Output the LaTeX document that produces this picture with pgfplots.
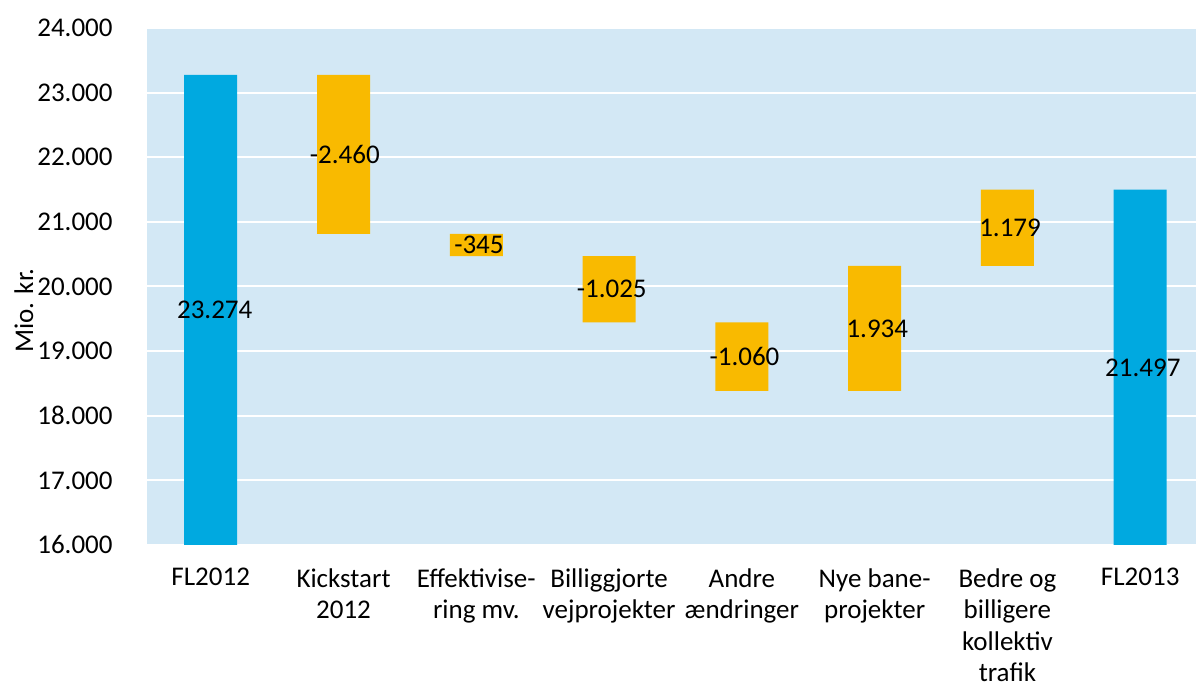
\documentclass[border=0pt]{standalone}
\usepackage{pgfplots}
\pgfplotsset{compat=1.18}
\usepackage{fontspec}
\setmainfont{Carlito}
\definecolor{bgblue}{RGB}{211,232,245}
\definecolor{barblue}{RGB}{0,169,224}
\definecolor{barorange}{RGB}{249,186,0}
\tikzset{vlab/.style={font=\fontsize{13.5}{16}\selectfont, inner sep=0pt}}
\begin{document}
\begin{tikzpicture}
\begin{axis}[name=ax, scale only axis, width=524.5pt, height=258.5pt,
  xmin=-0.48, xmax=7.42, ymin=16000, ymax=24000, enlargelimits=false,
  ybar stacked, bar width=26.5pt,
  axis background/.style={fill=bgblue},
  axis line style={draw=none},
  scaled y ticks=false,
  ytick={16000,17000,18000,19000,20000,21000,22000,23000,24000},
  yticklabels={16.000,17.000,18.000,19.000,20.000,21.000,22.000,23.000,24.000},
  ymajorgrids, grid style={white, line width=1pt},
  major tick length=0pt,
  xtick={0,1,2,3,4,5,6,7},
  xticklabels={FL2012, Kickstart\\2012, Effektivise-\\ring mv., Billiggjorte\\vejprojekter, Andre\\ændringer, Nye bane-\\projekter, Bedre og\\billigere\\kollektiv\\trafik, FL2013},
  xticklabel style={align=center, font=\fontsize{13.5}{15.8}\selectfont, anchor=north, inner sep=0pt, yshift=-11.5pt},
  yticklabel style={font=\fontsize{13.5}{16}\selectfont, anchor=east, inner sep=0pt, xshift=-17pt},
  ylabel={Mio. kr.},
  ylabel style={at={(axis description cs:-0.1173,0.4536)}, anchor=center, font=\fontsize{13.5}{16}\selectfont},
]
\addplot[draw=none, fill=none] coordinates {(0,0) (1,20814) (2,20469) (3,19444) (4,18384) (5,18384) (6,20318) (7,0)};
\addplot[draw=none, fill=barblue] coordinates {(0,23274) (1,0) (2,0) (3,0) (4,0) (5,0) (6,0) (7,21497)};
\addplot[draw=none, fill=barorange] coordinates {(0,0) (1,2460) (2,345) (3,1025) (4,1060) (5,1934) (6,1179) (7,0)};
\coordinate (l0) at (axis cs:0.03,19637);
\coordinate (l1) at (axis cs:1.01,22044);
\coordinate (l2) at (axis cs:2.02,20641);
\coordinate (l3) at (axis cs:3.02,19956);
\coordinate (l4) at (axis cs:4.02,18914);
\coordinate (l5) at (axis cs:5.02,19351);
\coordinate (l6) at (axis cs:6.02,20907);
\coordinate (l7) at (axis cs:7.02,18748);
\end{axis}
\node[vlab] at (l0) {23.274};
\node[vlab] at (l1) {-2.460};
\node[vlab] at (l2) {-345};
\node[vlab] at (l3) {-1.025};
\node[vlab] at (l4) {-1.060};
\node[vlab] at (l5) {1.934};
\node[vlab] at (l6) {1.179};
\node[vlab] at (l7) {21.497};
\pgfresetboundingbox
\path (ax.south west) ++(-73.5pt,-70.5pt) rectangle ++(598pt,343pt);
\end{tikzpicture}
\end{document}
